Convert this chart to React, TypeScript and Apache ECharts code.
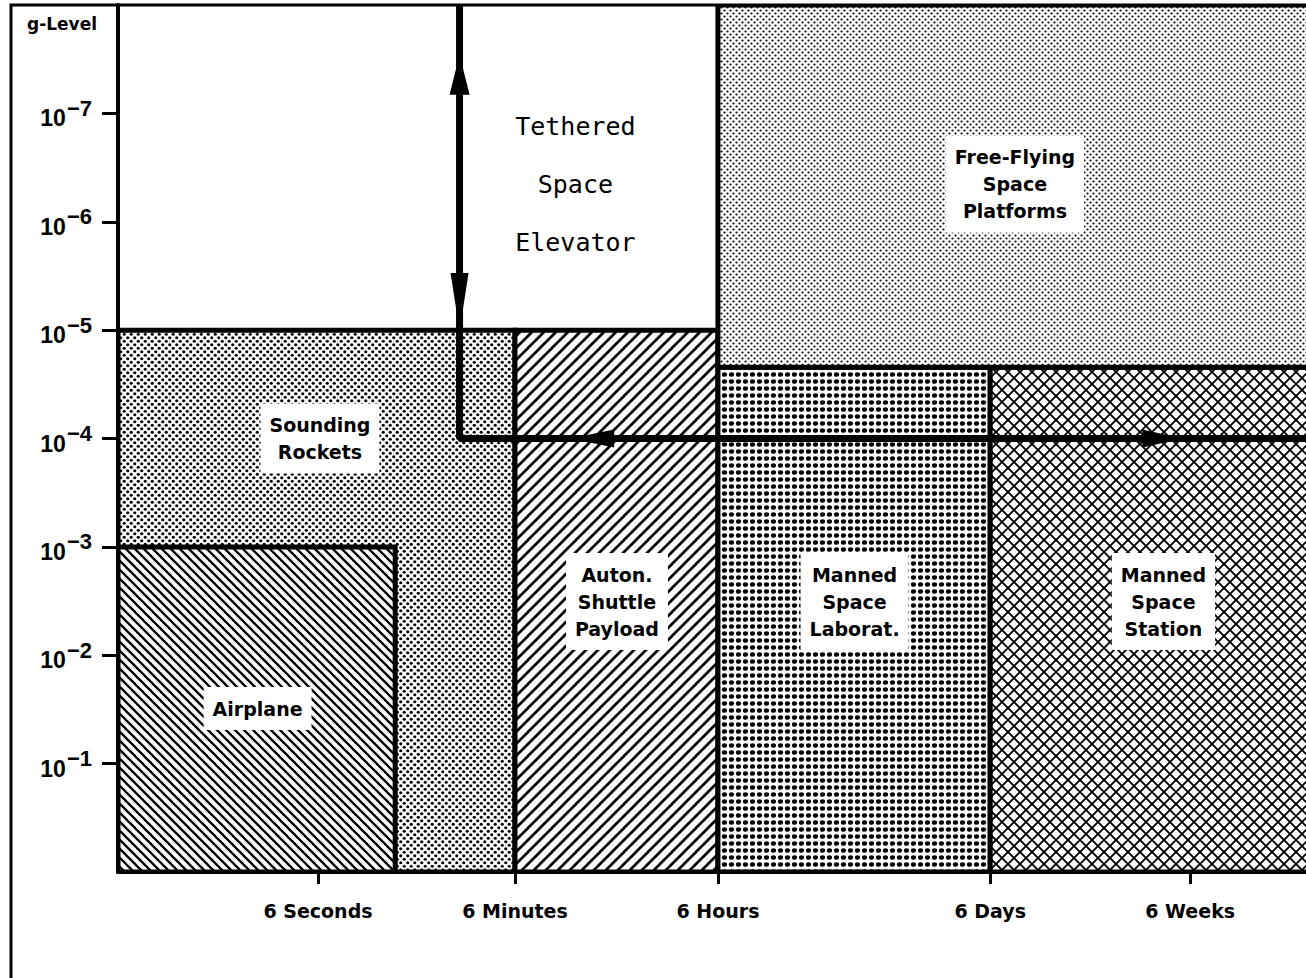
import React, { useEffect, useRef } from 'react';
import * as echarts from 'echarts';

// ---- data ----
const timeLabels = ['6 Seconds', '6 Minutes', '6 Hours', '6 Days', '6 Weeks'];
const timePositions = [2.02, 4.01, 6.06, 8.81, 10.83]; // schematic time axis units
const gTickExponents = [-7, -6, -5, -4, -3, -2, -1];

const regionNames = [
  'Sounding\nRockets',
  'Airplane',
  'Auton.\nShuttle\nPayload',
  'Manned\nSpace\nLaborat.',
  'Manned\nSpace\nStation',
  'Free-Flying\nSpace\nPlatforms',
];
const regionPatterns = ['stipple', 'back', 'fwd', 'grid', 'cross', 'fine'];
const regionTimeStart = [0, 0, 4.01, 6.06, 8.81, 6.06];
const regionTimeEnd = [4.01, 2.8, 6.06, 8.81, 12.3, 12.3];
const regionGLow = [1e-5, 1e-3, 1e-5, 2.2e-5, 2.2e-5, 1e-8]; // best (lowest) g-level
const regionGHigh = [1, 1, 1, 1, 1, 2.2e-5];
const regionLabelTime = [2.04, 1.41, 5.04, 7.44, 10.56, 9.06];
const regionLabelG = [1e-4, 0.031, 3.2e-3, 3.2e-3, 3.2e-3, 4.5e-7];

const tetherName = 'Tethered\nSpace\nElevator';
const tetherLabelTime = 4.62;
const tetherLabelG = 4.5e-7;
const tetherPathTime = [3.45, 3.45, 12.3];
const tetherPathG = [1e-8, 1e-4, 1e-4];
const arrowTime = [3.45, 3.45, 4.79, 10.55];
const arrowG = [4.4e-8, 5.5e-6, 1e-4, 1e-4];
const arrowRotate = [0, 180, 90, -90];

function makePattern(kind: string): any {
  const c = document.createElement('canvas');
  let w = 8;
  let h = 8;
  if (kind === 'back') { w = 9; h = 9; }
  if (kind === 'fwd') { w = 12; h = 12; }
  if (kind === 'cross') { w = 12; h = 12; }
  if (kind === 'stipple') { w = 7; h = 7; }
  if (kind === 'grid') { w = 7; h = 7; }
  if (kind === 'fine') { w = 6; h = 6; }
  c.width = w;
  c.height = h;
  const ctx = c.getContext('2d')!;
  ctx.fillStyle = '#fff';
  ctx.fillRect(0, 0, w, h);
  ctx.fillStyle = '#000';
  ctx.strokeStyle = '#000';
  const back = (lw: number) => {
    ctx.lineWidth = lw;
    ctx.beginPath();
    for (const k of [-1, 0, 1]) {
      ctx.moveTo(k * w - 1, -1);
      ctx.lineTo(k * w + w + 1, h + 1);
    }
    ctx.stroke();
  };
  const fwd = (lw: number) => {
    ctx.lineWidth = lw;
    ctx.beginPath();
    for (const k of [-1, 0, 1]) {
      ctx.moveTo(k * w - 1, h + 1);
      ctx.lineTo(k * w + w + 1, -1);
    }
    ctx.stroke();
  };
  const dot = (x: number, y: number, rx: number, ry: number) => {
    ctx.beginPath();
    ctx.ellipse(x, y, rx, ry, 0, 0, Math.PI * 2);
    ctx.fill();
  };
  if (kind === 'back') back(2.3);
  if (kind === 'fwd') fwd(2.7);
  if (kind === 'cross') { back(1.9); fwd(1.9); }
  if (kind === 'stipple') { dot(1.75, 1.75, 1.6, 1.6); dot(5.25, 5.25, 1.6, 1.6); }
  if (kind === 'grid') { dot(3.5, 3.5, 2.6, 2.3); }
  if (kind === 'fine') { dot(1.5, 1.5, 1.1, 1.1); dot(4.5, 4.5, 1.1, 1.1); }
  return { image: c, repeat: 'repeat', imageWidth: w, imageHeight: h };
}

const LABEL_FONT = 'bold 19px "DejaVu Sans"';

export default function App() {
  const ref = useRef<HTMLDivElement>(null);
  useEffect(() => {
    if (!ref.current) return;
    const chart = echarts.init(ref.current, null, { renderer: 'svg' });
    const patterns = regionPatterns.map(makePattern);
    const arrowSizes = [[20, 40], [18, 58], [18, 44], [18, 40]];

    const regionData = regionNames.map((_, i) => [
      regionTimeStart[i],
      regionTimeEnd[i],
      Math.log10(regionGLow[i]),
      Math.log10(regionGHigh[i]),
      regionLabelTime[i],
      Math.log10(regionLabelG[i]),
    ]);

    const option: any = {
      animation: false,
      backgroundColor: '#fff',
      textStyle: { fontFamily: 'DejaVu Sans' },
      grid: { left: 118, right: 0, top: 5, bottom: 106, containLabel: false, outerBoundsMode: 'none' },
      xAxis: {
        type: 'value',
        min: 0,
        max: 12,
        axisLine: { show: true, lineStyle: { color: '#000', width: 4 } },
        axisTick: { show: true, customValues: timePositions, length: 12, lineStyle: { color: '#000', width: 3 } },
        axisLabel: {
          customValues: timePositions,
          margin: 29,
          color: '#000',
          fontFamily: 'DejaVu Sans',
          fontWeight: 'bold',
          fontSize: 19,
          formatter: (v: number) => {
            let best = 0;
            timePositions.forEach((p, i) => { if (Math.abs(p - v) < Math.abs(timePositions[best] - v)) best = i; });
            return timeLabels[best];
          },
        },
        splitLine: { show: false },
      },
      yAxis: {
        type: 'value',
        min: -8,
        max: 0,
        interval: 1,
        inverse: true,
        axisLine: { show: true, lineStyle: { color: '#000', width: 4 } },
        axisTick: { show: true, customValues: gTickExponents, length: 16, lineStyle: { color: '#000', width: 3 } },
        axisLabel: {
          customValues: gTickExponents,
          margin: 26,
          color: '#000',
          formatter: (v: number) => `{b|10}{s|\u2212${Math.round(-v)}}`,
          rich: {
            b: { fontFamily: 'Liberation Sans', fontWeight: 'bold', fontSize: 23, color: '#000', padding: [10, 1, 0, 0] },
            s: { fontFamily: 'Liberation Sans', fontWeight: 'bold', fontSize: 22, color: '#000', padding: [0, 0, 10, 0] },
          },
        },
        splitLine: { show: false },
      },
      graphic: [
        {
          type: 'polyline',
          shape: { points: [[11, 978], [11, 5], [1306, 5]] },
          style: { stroke: '#000', lineWidth: 3, fill: null },
          z: 100,
          silent: true,
        },
        {
          type: 'text',
          x: 62,
          y: 24,
          style: { text: 'g-Level', font: 'bold 17px "DejaVu Sans"', fill: '#000', align: 'center', verticalAlign: 'middle' },
          silent: true,
        },
      ],
      series: [
        {
          type: 'custom',
          clip: true,
          silent: true,
          data: regionData,
          encode: { x: [0, 1, 4], y: [2, 3, 5] },
          renderItem: (params: any, api: any) => {
            const i = params.dataIndex;
            const p0 = api.coord([api.value(0), api.value(2)]);
            const p1 = api.coord([api.value(1), api.value(3)]);
            const lc = api.coord([api.value(4), api.value(5)]);
            return {
              type: 'group',
              children: [
                {
                  type: 'rect',
                  shape: { x: p0[0], y: p0[1], width: p1[0] - p0[0], height: p1[1] - p0[1] },
                  style: { fill: patterns[i], stroke: '#000', lineWidth: 5 },
                },
                {
                  type: 'text',
                  x: lc[0],
                  y: lc[1],
                  style: {
                    text: regionNames[i],
                    font: LABEL_FONT,
                    fill: '#000',
                    align: 'center',
                    verticalAlign: 'middle',
                    lineHeight: 27,
                    backgroundColor: '#fff',
                    padding: [8, 9, 8, 9],
                  },
                },
              ],
            };
          },
          z: 2,
        },
        {
          type: 'custom',
          silent: true,
          data: [[tetherLabelTime, Math.log10(tetherLabelG)]],
          renderItem: (_p: any, api: any) => {
            const c = api.coord([api.value(0), api.value(1)]);
            return {
              type: 'text',
              x: c[0],
              y: c[1],
              style: {
                text: tetherName,
                font: '25px "DejaVu Sans Mono"',
                fill: '#000',
                align: 'center',
                verticalAlign: 'middle',
                lineHeight: 58,
              },
            };
          },
          z: 3,
        },
        {
          type: 'line',
          silent: true,
          data: tetherPathTime.map((t, i) => [t, Math.log10(tetherPathG[i])]),
          symbol: 'none',
          lineStyle: { color: '#000', width: 7 },
          z: 4,
        },
        {
          type: 'scatter',
          silent: true,
          symbol: 'triangle',
          data: arrowTime.map((t, i) => ({
            value: [t, Math.log10(arrowG[i])],
            symbolRotate: arrowRotate[i],
            symbolSize: arrowSizes[i],
          })),
          itemStyle: { color: '#000', opacity: 1 },
          z: 5,
        },
      ],
    };
    chart.setOption(option);
    return () => chart.dispose();
  }, []);
  return <div ref={ref} style={{ position: 'fixed', left: 0, top: 0, width: 1306, height: 978 }} />;
}
